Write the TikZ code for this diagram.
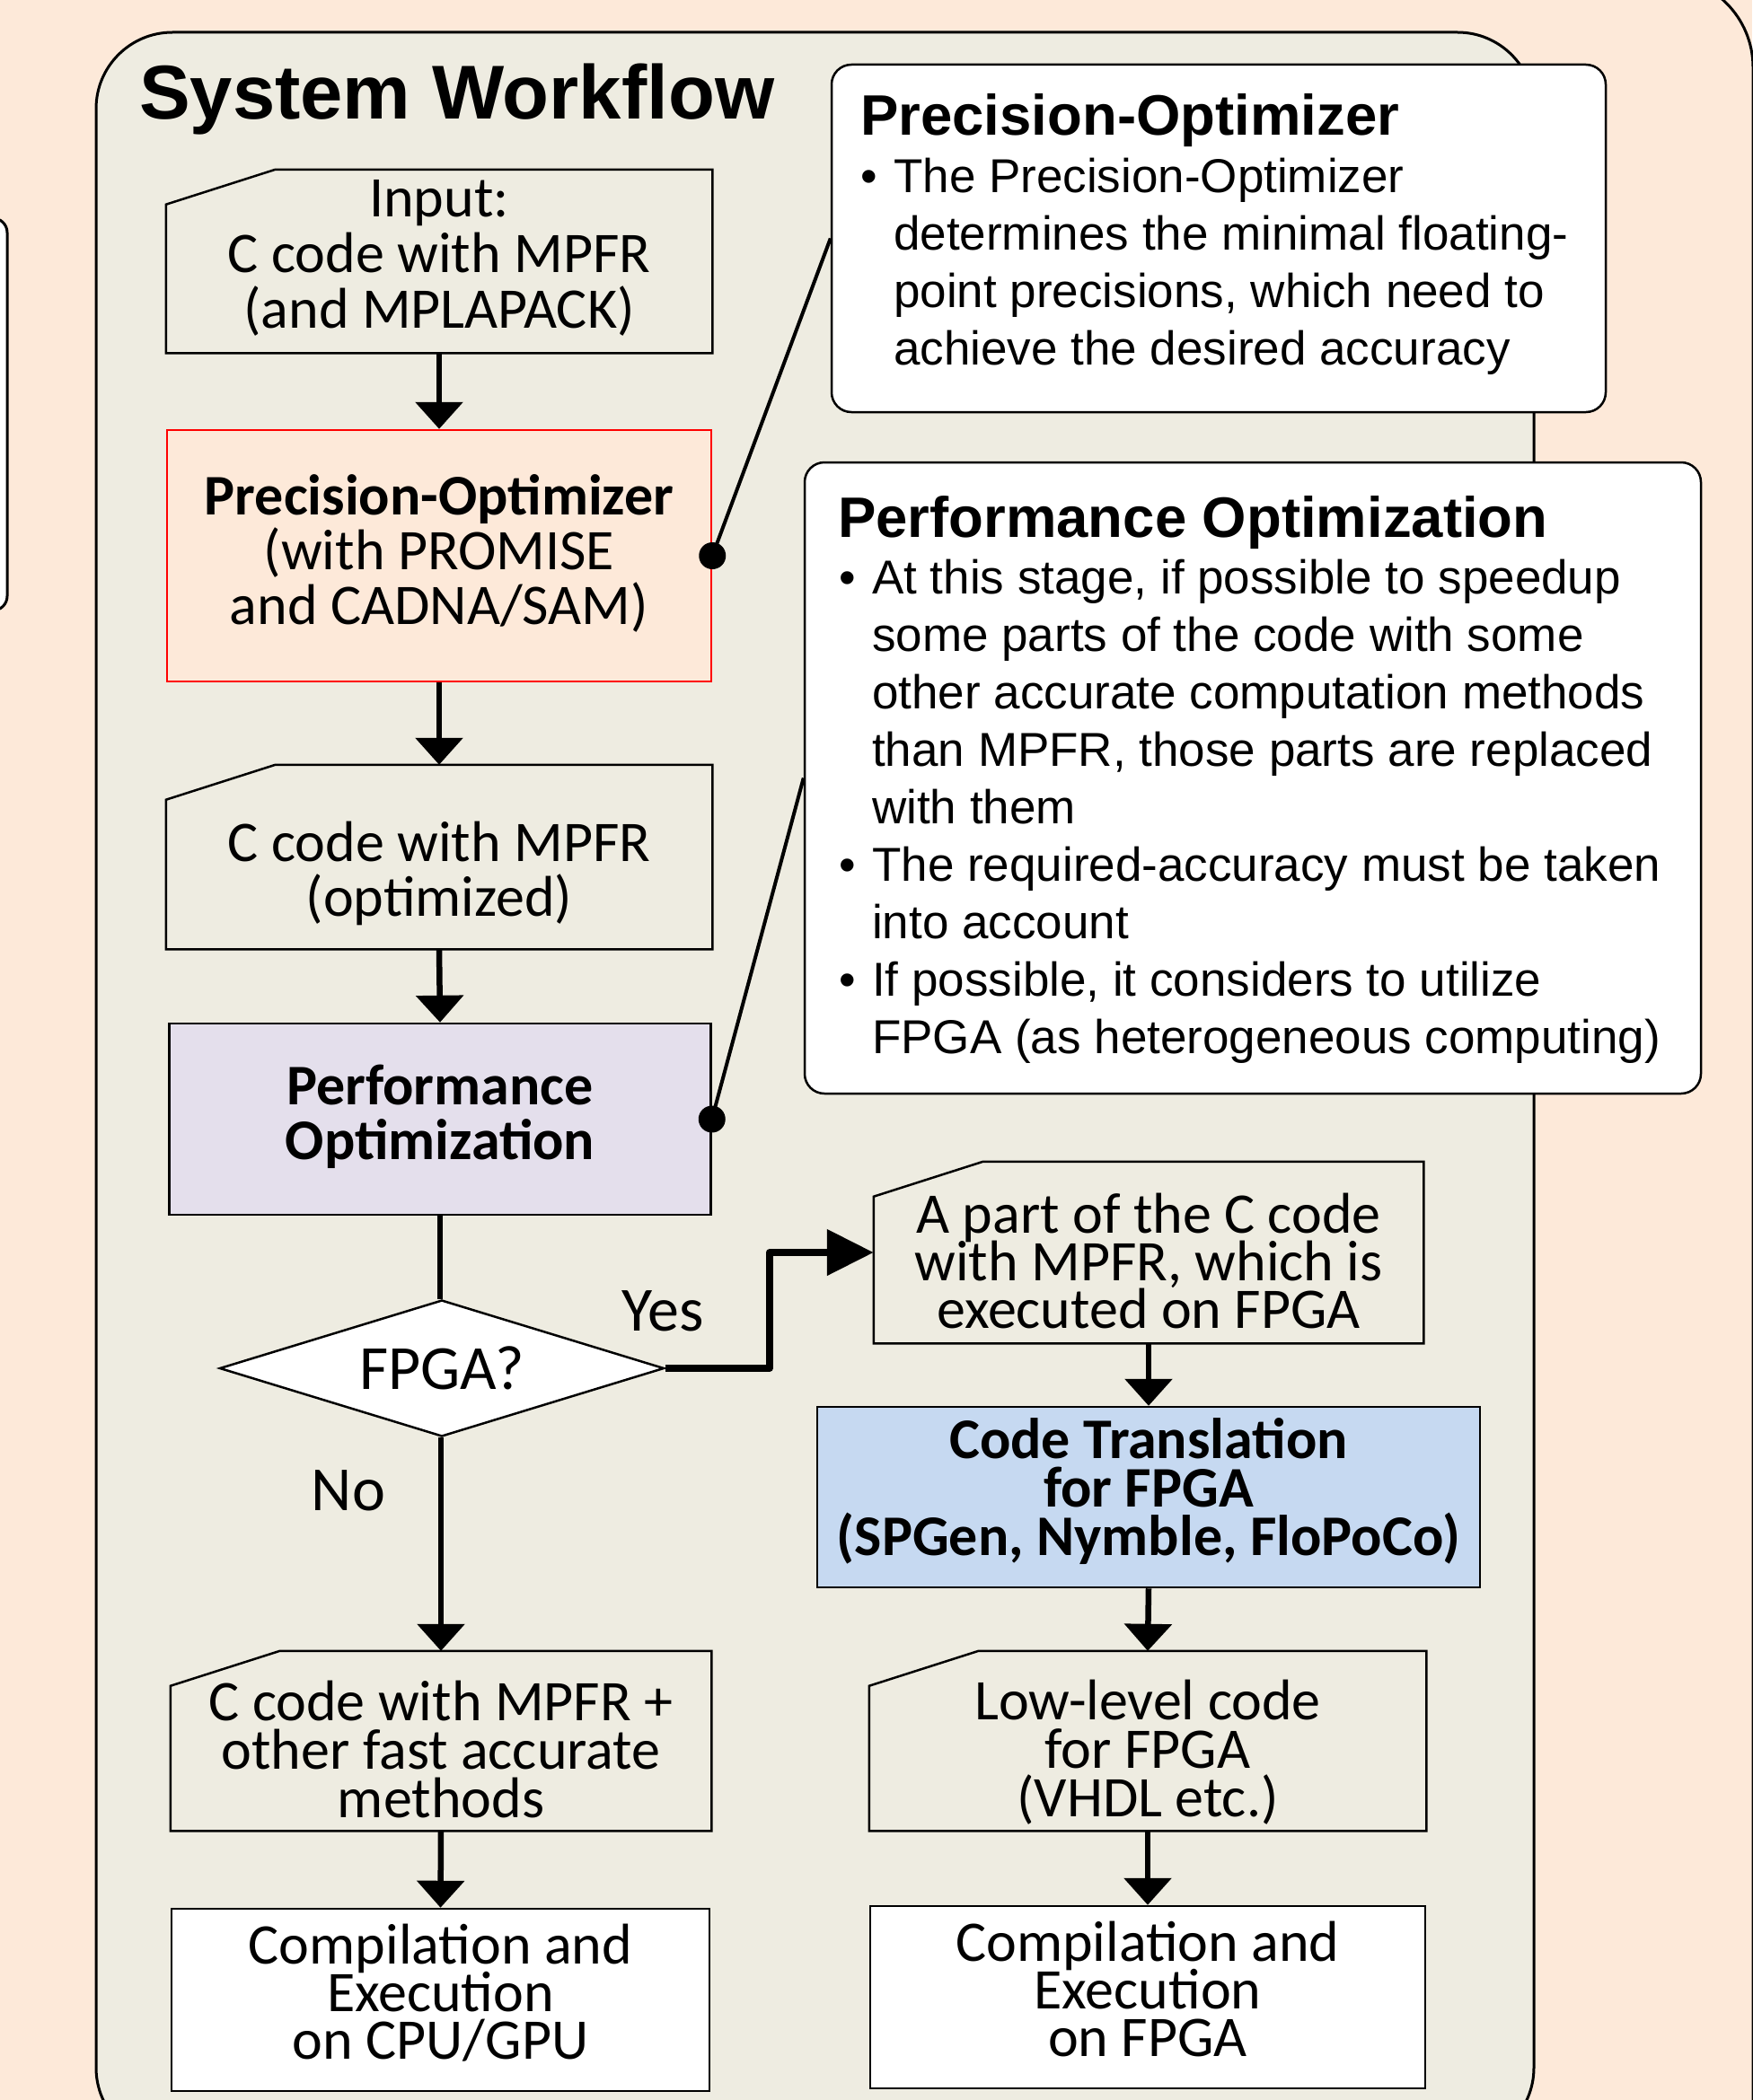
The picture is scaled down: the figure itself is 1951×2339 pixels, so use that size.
\documentclass[tikz,border=0pt]{standalone}
\usepackage{fontspec}
\setmainfont{Carlito}
\newfontfamily\arialf{Liberation Sans}
\usetikzlibrary{arrows.meta,shapes.geometric,backgrounds,calc}
\setlength{\lineskiplimit}{-1000pt}
\definecolor{peach}{HTML}{FDE9D9}
\definecolor{panel}{HTML}{EEECE1}
\definecolor{lav}{HTML}{E4DFEC}
\definecolor{lblue}{HTML}{C6D9F1}
\newcommand\chamfbox[1]{%
  \begin{pgfonlayer}{background}
  \draw[line width=2.5pt, fill=panel] ($(#1.north west)+(0,39)$) -- ($(#1.north west)+(122,0)$) -- (#1.north east) -- (#1.south east) -- (#1.south west) -- cycle;
  \end{pgfonlayer}}
\tikzset{
  bx/.style={inner sep=0pt, line width=2.5pt},
  tx/.style={inner sep=0pt, align=center},
  ft/.style={font=\fontsize{64}{#1}\selectfont},
  ftb/.style={font=\bfseries\fontsize{64}{#1}\selectfont},
  arr/.style={line width=6.5pt, -{Triangle[width=52pt,length=30pt]}},
  callout/.style={draw, fill=white, line width=2.5pt, rounded corners=22pt, inner sep=0pt},
  chead/.style={anchor=base west, inner sep=0pt, font=\arialf\bfseries\fontsize{63.5}{76}\selectfont},
  ctext/.style={anchor=north west, inner sep=0pt, font=\arialf\fontsize{53}{64}\selectfont},
  lbl/.style={inner sep=0pt, font=\fontsize{70}{84}\selectfont},
  link/.style={line width=4pt},
}
\begin{document}
\begin{tikzpicture}[x=1pt,y=-1pt]
\useasboundingbox (0,0) rectangle (1951,2339);
\begin{pgfonlayer}{background}
\fill[peach] (0,0) rectangle (1951,2339);
\draw[line width=3pt, rounded corners=101pt] (-300,-26) rectangle (1952,2700);
\draw[line width=3pt, fill=white, rounded corners=16pt] (-100,243) rectangle (8,680);
\draw[line width=3pt, fill=panel, rounded corners=85pt] (107,36) rectangle (1708,2388);
\end{pgfonlayer}

\node[anchor=base west, inner sep=0pt, font=\arialf\bfseries\fontsize{85}{100}\selectfont] (title) at (155,133) {System Workflow};

% left column boxes
\node[bx, minimum width=606pt, minimum height=202pt] (inp) at (489,291) {};
\chamfbox{inp}
\node[bx, draw=red, fill=peach, minimum width=606pt, minimum height=280pt] (prec) at (489,619) {};
\node[bx, minimum width=606pt, minimum height=203pt] (copt) at (489,954.5) {};
\chamfbox{copt}
\node[bx, draw, fill=lav, minimum width=603pt, minimum height=213pt] (perf) at (490,1246.5) {};
\node[diamond, draw, fill=white, line width=2.5pt, inner sep=0pt, shape aspect=3.26, minimum width=495pt, minimum height=152pt, font=\fontsize{70}{84}\selectfont] (fpga) at (492,1524) {FPGA?};
\node[bx, minimum width=600pt, minimum height=198pt] (cplus) at (491,1939) {};
\chamfbox{cplus}
\node[bx, draw, fill=white, minimum width=599pt, minimum height=203pt] (ccpu) at (490.5,2227.5) {};

% right column boxes
\node[bx, minimum width=610pt, minimum height=200pt] (apart) at (1279,1395) {};
\chamfbox{apart}
\node[bx, draw, fill=lblue, minimum width=738pt, minimum height=201pt] (ctrans) at (1279,1667.5) {};
\node[bx, minimum width=618pt, minimum height=198pt] (low) at (1278,1939) {};
\chamfbox{low}
\node[bx, draw, fill=white, minimum width=618pt, minimum height=203pt] (cfpga) at (1278,2224.5) {};

% box texts
\node[tx, ft=62] (inp-t) at ($(inp)+(0,-4)$) {Input:\\C code with MPFR\\(and MPLAPACK)};
\node[tx, ft=61] (prec-t) at ($(prec)+(0,-3)$) {\textbf{Precision-Optimizer}\\(with PROMISE\\and CADNA/SAM)};
\node[tx, ft=61] (copt-t) at ($(copt)+(0,18)$) {C code with MPFR\\(optimized)};
\node[tx, ftb=61] (perf-t) at ($(perf)+(0,-3)$) {Performance\\Optimization};
\node[tx, ft=54] (cplus-t) at ($(cplus)+(0,9)$) {C code with MPFR +\\other fast accurate\\methods};
\node[tx, ft=53] (ccpu-t) at ($(ccpu)+(0,-8)$) {Compilation and\\Execution\\on CPU/GPU};
\node[tx, ft=53] (apart-t) at ($(apart)+(0,9)$) {A part of the C code\\with MPFR, which is\\executed on FPGA};
\node[tx, ftb=54] (ctrans-t) at ($(ctrans)+(0,-6)$) {Code Translation\\for FPGA\\(SPGen, Nymble, FloPoCo)};
\node[tx, ft=54] (low-t) at ($(low)+(0,13)$) {Low-level code\\for FPGA\\(VHDL etc.)};
\node[tx, ft=53] (cfpga-t) at ($(cfpga)+(0,-9)$) {Compilation and\\Execution\\on FPGA};

% labels
\node[lbl] (yes) at (738,1460) {Yes};
\node[lbl] (no) at (388,1660) {No};

% connectors
\draw[arr] (inp.south) -- (prec.north);
\draw[arr] (prec.south) -- (copt.north);
\draw[arr] (copt.south) -- (perf.north);
\draw[line width=6.5pt] (perf.south) -- (perf.south |- fpga.north);
\draw[arr] (cplus.north |- fpga.south) -- (cplus.north);
\coordinate (ym) at ($(fpga.east)!0.5!(apart.west)$);
\draw[line width=8pt, line join=round, -{Triangle[width=50pt,length=52pt]}] (fpga.east) -- (fpga.east -| ym) -- (ym |- apart.west) -- (apart.west);
\draw[arr] (apart.south) -- (ctrans.north);
\draw[arr] (ctrans.south) -- (low.north);
\draw[arr] (cplus.south) -- (ccpu.north);
\draw[arr] (low.south) -- (cfpga.north);

% callouts
\node[callout, minimum width=862pt, minimum height=387pt] (pc) at (1357,265.5) {};
\node[chead] (pch) at (958,150) {Precision-Optimizer};
\node[ctext] (pct) at (958,169.2) {\lineskiplimit=0pt\begin{tabular}{@{}l@{}}
\makebox[37pt][l]{•}The Precision-Optimizer\\
\hspace*{37pt}determines the minimal floating-\\
\hspace*{37pt}point precisions, which need to\\
\hspace*{37pt}achieve the desired accuracy
\end{tabular}};

\node[callout, minimum width=998pt, minimum height=703pt] (pfc) at (1395,866.5) {};
\node[chead] (pfh) at (933,598) {Performance Optimization};
\node[ctext] (pft) at (933,616.2) {\lineskiplimit=0pt\begin{tabular}{@{}l@{}}
\makebox[38pt][l]{\hspace*{1pt}•}At this stage, if possible to speedup\\
\hspace*{38pt}some parts of the code with some\\
\hspace*{38pt}other accurate computation methods\\
\hspace*{38pt}than MPFR, those parts are replaced\\
\hspace*{38pt}with them\\
\makebox[38pt][l]{\hspace*{1pt}•}The required-accuracy must be taken\\
\hspace*{38pt}into account\\
\makebox[38pt][l]{\hspace*{1pt}•}If possible, it considers to utilize\\
\hspace*{38pt}FPGA (as heterogeneous computing)
\end{tabular}};

\draw[link] (prec.east) -- (pc.west);
\fill (prec.east) circle (15pt);
\draw[link] (perf.east) -- (pfc.west);
\fill (perf.east) circle (15pt);
\end{tikzpicture}
\end{document}
